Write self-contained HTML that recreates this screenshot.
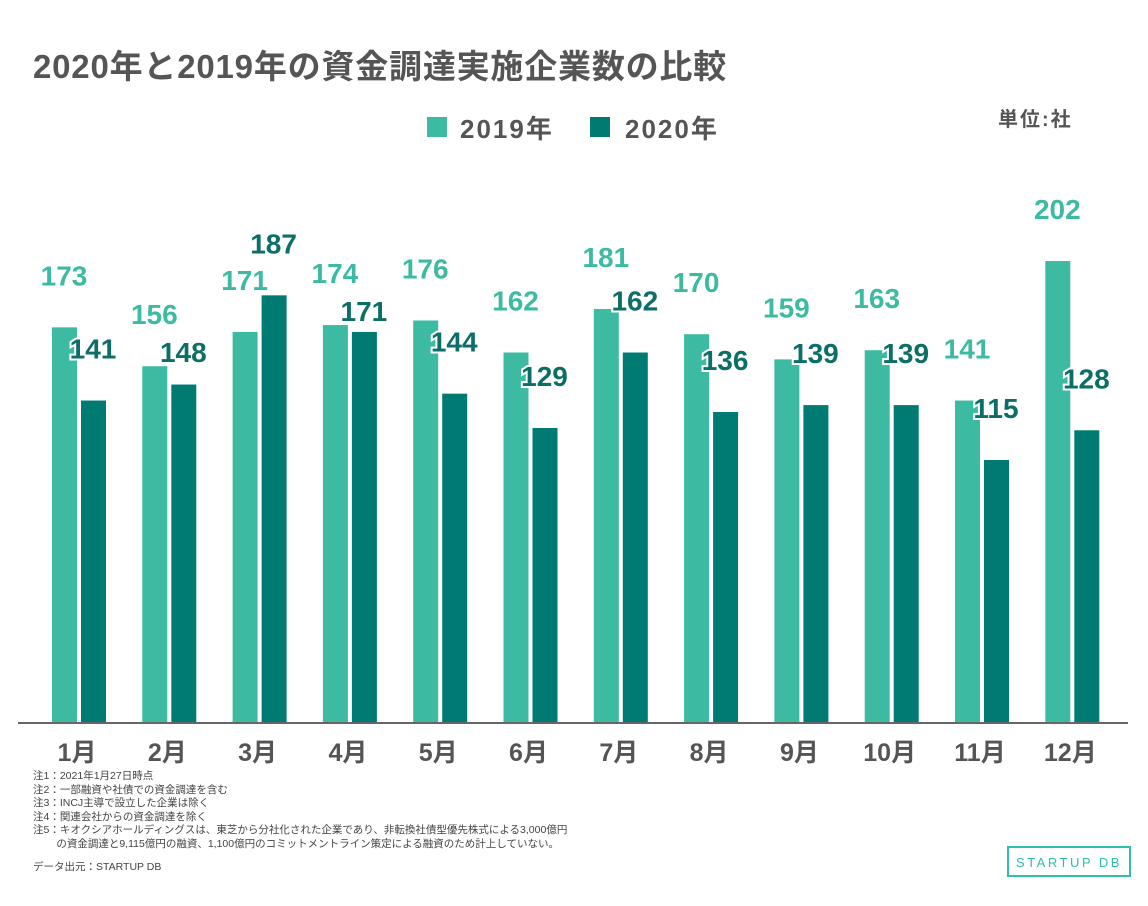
<!DOCTYPE html>
<html><head><meta charset="utf-8"><style>
body{margin:0;width:1148px;height:906px;background:#fff;overflow:hidden;font-family:"Liberation Sans","Noto Sans CJK JP",sans-serif}
svg{position:absolute;left:0;top:0}
.notes{position:absolute;left:33px;top:770px;font-size:10.5px;line-height:13.5px;color:#444}
</style></head><body>
<svg width="1148" height="906" id="chart">
<text x="33" y="78" font-size="33" letter-spacing="0.8" font-weight="bold" fill="#555">2020年と2019年の資金調達実施企業数の比較</text>
<rect x="427" y="117" width="20" height="20" fill="#3dbba2"/>
<text x="460" y="138" font-size="26" letter-spacing="2" font-weight="bold" fill="#555">2019年</text>
<rect x="590" y="117" width="20" height="20" fill="#007b73"/>
<text x="625" y="138" font-size="26" letter-spacing="2" font-weight="bold" fill="#555">2020年</text>
<text x="998" y="126" font-size="20" letter-spacing="2" font-weight="bold" fill="#555">単位:社</text>
<g id="bars"></g>
<line x1="18" y1="723" x2="1128" y2="723" stroke="#666" stroke-width="2"/>
<rect x="1008" y="847" width="122" height="29" fill="none" stroke="#2cc0ad" stroke-width="2"/>
<text x="1069" y="867" font-size="13" letter-spacing="2.5" text-anchor="middle" fill="#2cc0ad">STARTUP DB</text>
</svg>
<div class="notes">注1：2021年1月27日時点<br>注2：一部融資や社債での資金調達を含む<br>注3：INCJ主導で設立した企業は除く<br>注4：関連会社からの資金調達を除く<br>注5：キオクシアホールディングスは、東芝から分社化された企業であり、非転換社債型優先株式による3,000億円<br>&nbsp;&nbsp;&nbsp;&nbsp;&nbsp;&nbsp;&nbsp;&nbsp;の資金調達と9,115億円の融資、1,100億円のコミットメントライン策定による融資のため計上していない。<br><div style="margin-top:10px">データ出元：STARTUP DB</div></div>
<script>
const months=["1月","2月","3月","4月","5月","6月","7月","8月","9月","10月","11月","12月"];
const values2019=[173,156,171,174,176,162,181,170,159,163,141,202];
const values2020=[141,148,187,171,144,129,162,136,139,139,115,128];
const NS="http://www.w3.org/2000/svg";
const g=document.getElementById("bars");
const base=723,k=2.287,x0=52,step=90.3,bw=25;
const y=v=>base-v*k;
function mk(t,a){const e=document.createElementNS(NS,t);for(const n in a)e.setAttribute(n,a[n]);g.appendChild(e);return e;}
months.forEach((m,i)=>{
  const xa=x0+i*step, xb=xa+29;
  const r1=mk("rect",{x:xa,y:y(values2019[i]),width:bw,height:values2019[i]*k,fill:"#3dbba2"});
  
  
  const r2=mk("rect",{x:xb,y:y(values2020[i]),width:bw,height:values2020[i]*k,fill:"#007b73"});
  
  
  const c1=y(values2019[i])-52;
  let c2=y(values2020[i])-52;
  if(values2020[i]<=values2019[i] && c2-c1<38) c2=c1+38;
  const t1=mk("text",{x:xa+12,y:c1+10,"font-size":28,"font-weight":"bold","text-anchor":"middle",fill:"#3dbba2"});
  t1.textContent=values2019[i];
  
  
  const t2=mk("text",{x:xb+12,y:c2+10,"font-size":28,"font-weight":"bold","text-anchor":"middle",fill:"#0b6e67",stroke:"#fff","stroke-width":4,"paint-order":"stroke"});
  t2.textContent=values2020[i];
  
  
  const t3=mk("text",{x:xa+25,y:761,"font-size":25,"font-weight":"bold","text-anchor":"middle",fill:"#555"});
  t3.textContent=m;
  
  
});
</script>
</body></html>
